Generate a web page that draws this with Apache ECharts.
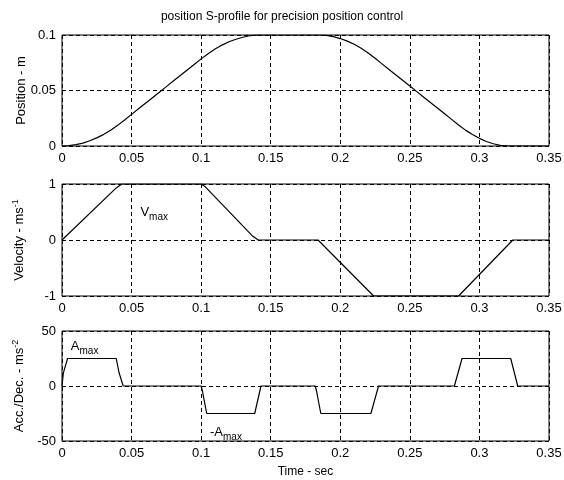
<!DOCTYPE html>
<html><head><meta charset="utf-8">
<script src="https://cdn.jsdelivr.net/npm/echarts@6/dist/echarts.min.js"></script>
<style>html,body{margin:0;padding:0;background:#fff}#c{width:564px;height:480px}</style>
</head><body><div id="c"></div>
<script>
var title = 'position S-profile for precision position control';
var xTicks = ['0','0.05','0.1','0.15','0.2','0.25','0.3','0.35'];
var posT = [0,0.005,0.01,0.015,0.02,0.025,0.03,0.035,0.04,0.045,0.05,0.055,0.06,0.065,0.07,0.075,0.08,0.085,0.09,0.095,0.1,0.105,0.11,0.115,0.12,0.125,0.13,0.135,0.14,0.145,0.15,0.155,0.16,0.165,0.17,0.175,0.18,0.185,0.19,0.195,0.2,0.205,0.21,0.215,0.22,0.225,0.23,0.235,0.24,0.245,0.25,0.255,0.26,0.265,0.27,0.275,0.28,0.285,0.29,0.295,0.3,0.305,0.31,0.315,0.32,0.325,0.33,0.335,0.34,0.345,0.35];
var posV = [0,0.0003,0.0012,0.0026,0.0047,0.0073,0.0105,0.0142,0.0186,0.0235,0.0285,0.0335,0.0385,0.0435,0.0485,0.0535,0.0585,0.0635,0.0685,0.0735,0.0785,0.0832,0.0873,0.0909,0.0939,0.0962,0.098,0.0993,0.0999,0.1,0.1,0.1,0.1,0.1,0.1,0.1,0.1,0.1,0.0996,0.0985,0.0968,0.0945,0.0916,0.088,0.0838,0.079,0.074,0.069,0.064,0.059,0.054,0.049,0.044,0.039,0.034,0.029,0.024,0.019,0.0143,0.0103,0.0069,0.0041,0.002,0.0005,0.0001,0,0,0,0,0,0];
var velT = [0,0.039,0.043,0.1,0.103,0.137,0.141,0.184,0.224,0.285,0.324,0.35];
var velV = [0,0.93,1,1,0.95,0.07,0,0,-1,-1,0,0];
var accT = [0,0.001,0.004,0.039,0.041,0.044,0.1,0.101,0.102,0.104,0.1385,0.143,0.182,0.183,0.186,0.222,0.2275,0.282,0.2875,0.3225,0.3275,0.35];
var accV = [0,12,25,25,12,0,0,-5,-12,-25,-25,0,0,-5,-25,-25,0,0,25,25,0,0];
var yNames = ['Position - m','Velocity - ms{sup|-1}','Acc./Dec. - ms{sup|-2}'];
var yMin = [0,-1,-50], yMax = [0.1,1,50], yInt = [0.05,1,50];

function zip(a,b){return a.map(function(v,i){return [v,b[i]];});}
var F = 'Liberation Sans, Arial, sans-serif';
var tops = [35,184,331], heights = [111,112,110];
var grids = [], xAxes = [], yAxes = [];
for (var i=0;i<3;i++){
  grids.push({left:62, right:15, top:tops[i], height:heights[i], show:true, borderColor:'#000', borderWidth:1, backgroundColor:'#fff', containLabel:false, outerBoundsMode:'none'});
  xAxes.push({type:'value', gridIndex:i, min:0, max:0.35, interval:0.05,
    axisLine:{show:false}, axisTick:{show:false},
    axisLabel:{color:'#000', fontFamily:F, fontSize:13, margin:6, formatter:function(v){return xTicks[Math.round(v/0.05)];}},
    splitLine:{show:true, lineStyle:{color:'#000', type:[4,3], width:1}},
    name: i===2 ? 'Time - sec' : '', nameLocation:'middle', nameGap:25, nameMoveOverlap:false,
    nameTextStyle:{color:'#000', fontFamily:F, fontSize:12}});
  yAxes.push({type:'value', gridIndex:i, min:yMin[i], max:yMax[i], interval:yInt[i],
    axisLine:{show:false}, axisTick:{show:false},
    axisLabel:{color:'#000', fontFamily:F, fontSize:13, margin:6},
    splitLine:{show:true, lineStyle:{color:'#000', type:[4,3], width:1}},
    name:yNames[i], nameLocation:'middle', nameGap:34, nameMoveOverlap:false,
    nameTextStyle:{color:'#000', fontFamily:F, fontSize:13, rich:{sup:{fontSize:9, verticalAlign:'top', padding:[0,0,8,0], fontFamily:F, color:'#000'}}}});
}
var lbl = {color:'#000', fontFamily:F, fontSize:13, rich:{s:{fontSize:10, padding:[10,0,0,0], fontFamily:F, color:'#000'}}};
function mk(coord, txt){return {coord:coord, symbol:'circle', symbolSize:1, itemStyle:{color:'rgba(0,0,0,0)'}, label:Object.assign({show:true, position:'right', distance:0, formatter:txt}, lbl)};}
var ls = {color:'#000', width:1.2};
var option = {
  backgroundColor:'#fff', animation:false,
  title:{text:title, left:'center', top:6, textStyle:{color:'#000', fontFamily:F, fontSize:12, fontWeight:'normal'}},
  grid:grids, xAxis:xAxes, yAxis:yAxes,
  series:[
    {type:'line', xAxisIndex:0, yAxisIndex:0, data:zip(posT,posV), showSymbol:false, lineStyle:ls, itemStyle:{color:'#000'}},
    {type:'line', xAxisIndex:1, yAxisIndex:1, data:zip(velT,velV), showSymbol:false, lineStyle:ls, itemStyle:{color:'#000'},
      markPoint:{silent:true, data:[mk([0.056,0.5],'V{s|max}')]}},
    {type:'line', xAxisIndex:2, yAxisIndex:2, data:zip(accT,accV), showSymbol:false, lineStyle:ls, itemStyle:{color:'#000'},
      markPoint:{silent:true, data:[mk([0.006,36],'A{s|max}'), mk([0.106,-42],'-A{s|max}')]}}
  ]
};
echarts.init(document.getElementById('c')).setOption(option);
</script></body></html>
